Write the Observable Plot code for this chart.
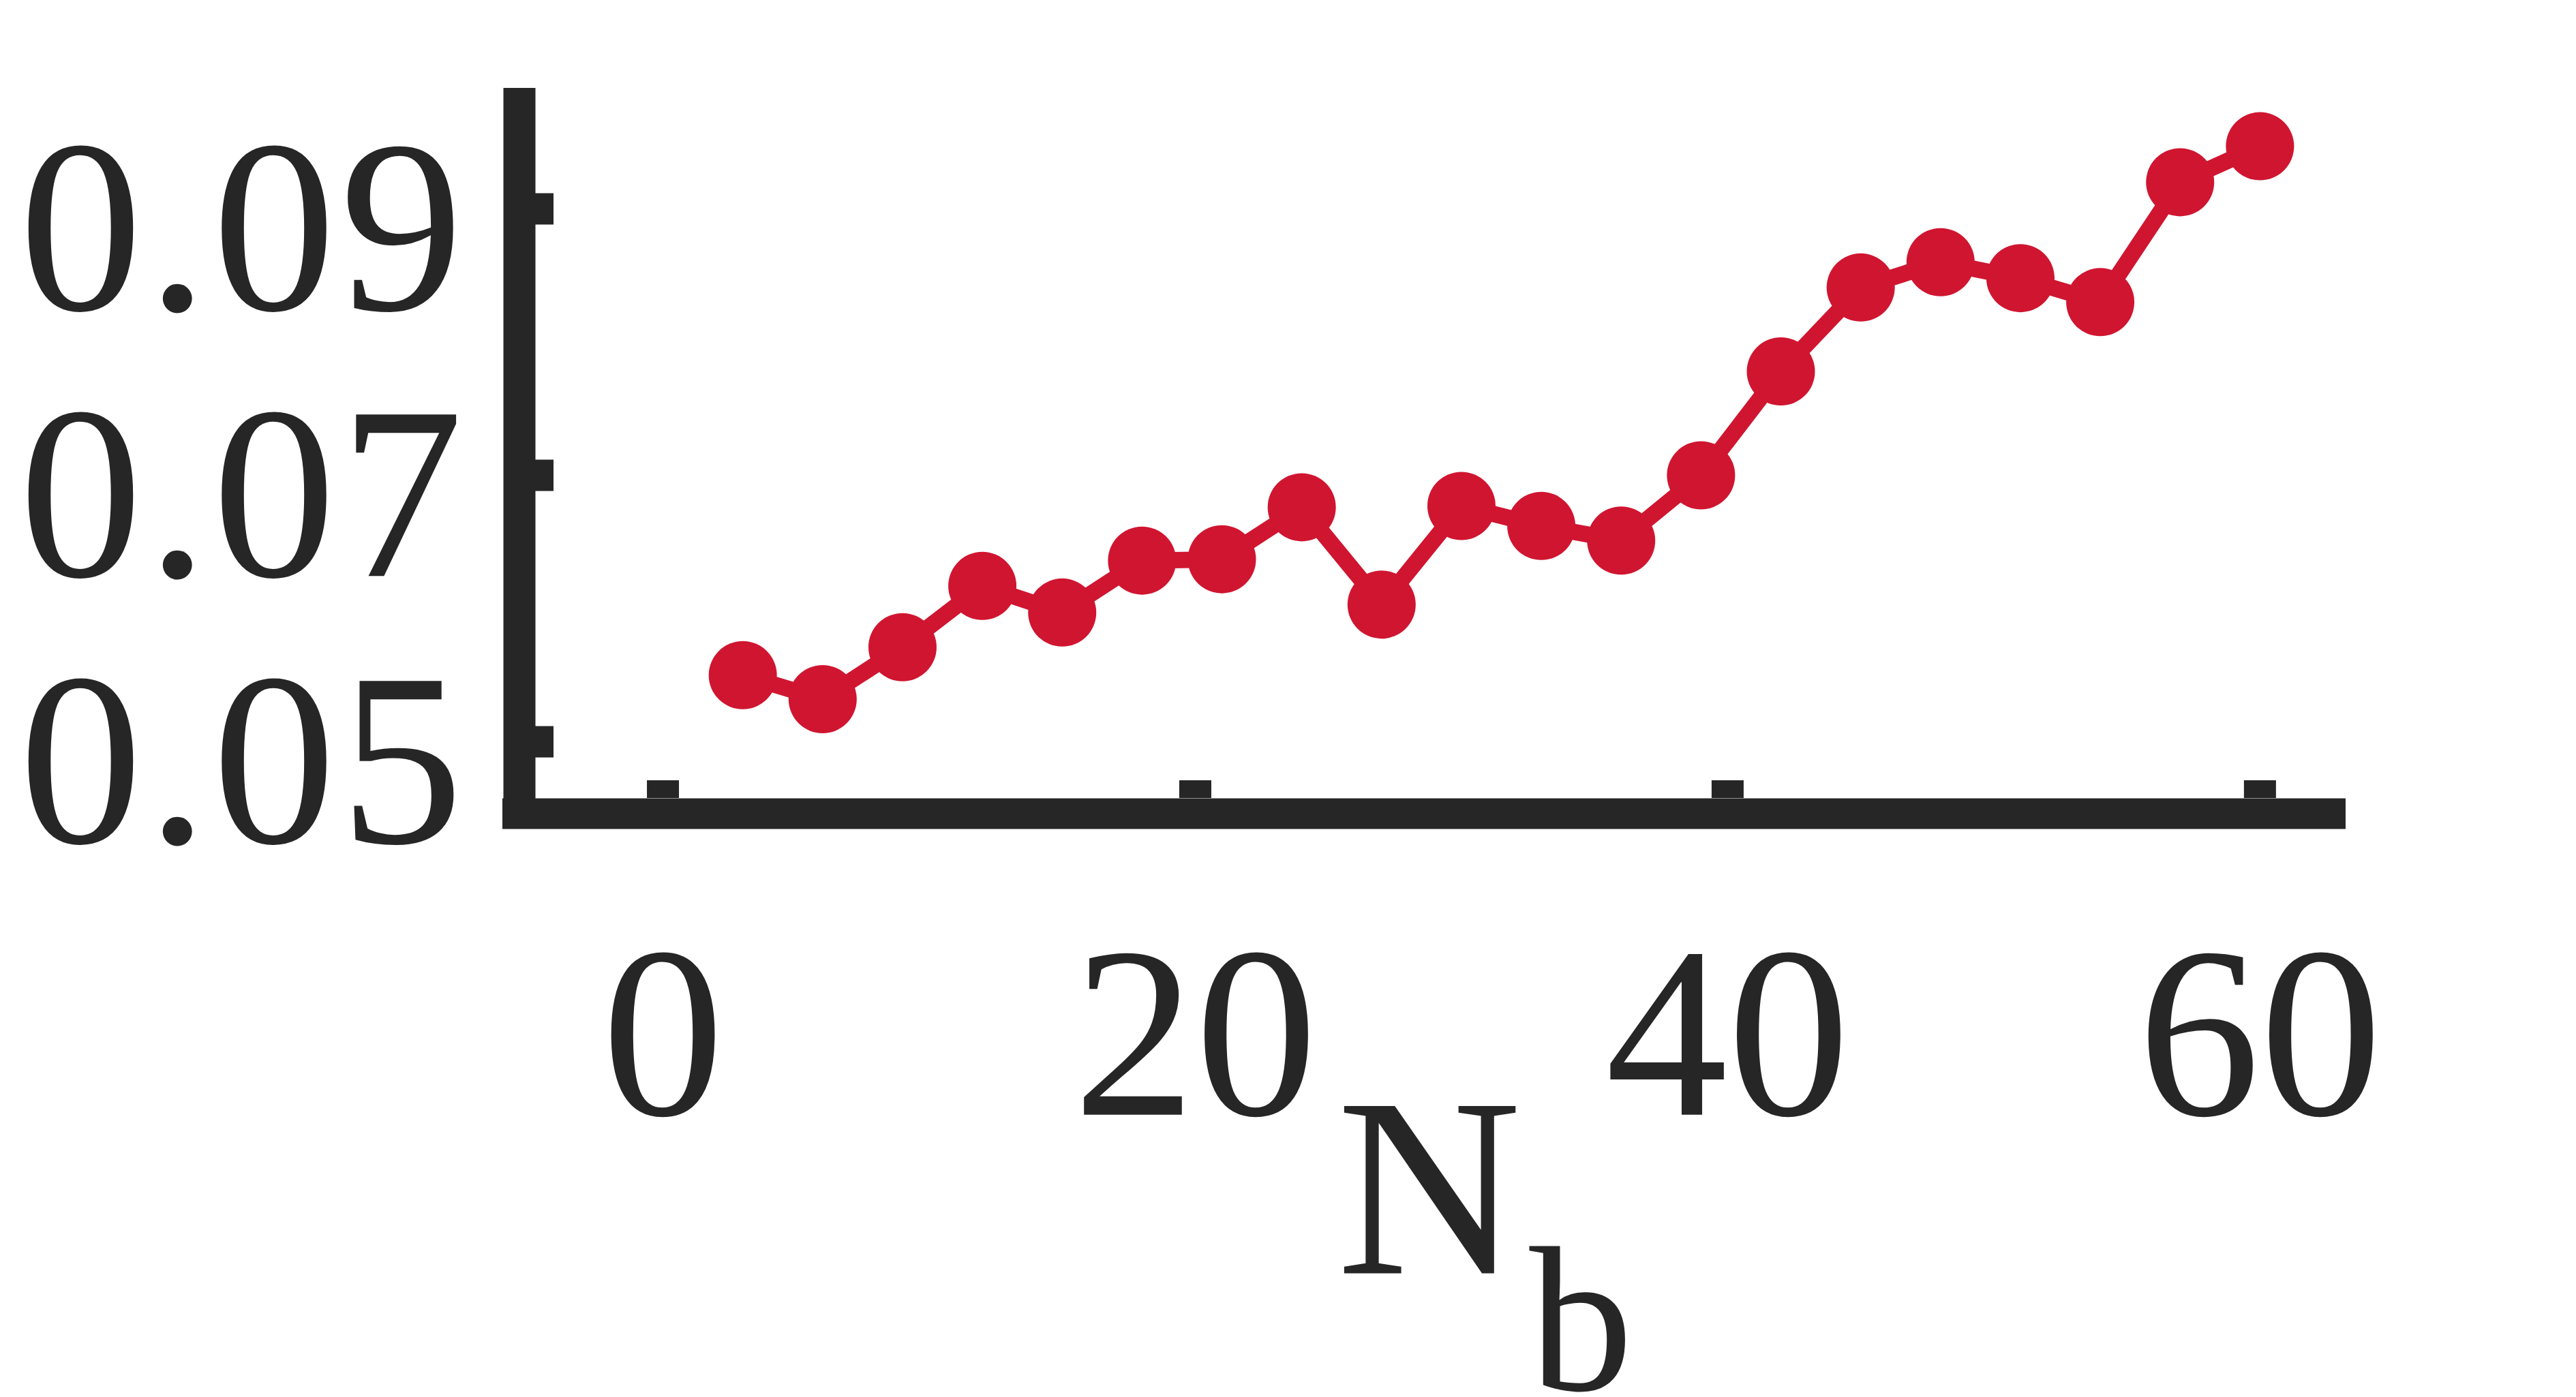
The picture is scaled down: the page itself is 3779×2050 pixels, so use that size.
<!DOCTYPE html>
<html>
<head>
<meta charset="utf-8">
<script src="https://cdn.jsdelivr.net/npm/d3@7"></script>
<script src="https://cdn.jsdelivr.net/npm/@observablehq/plot@0.6"></script>
<style>
  html, body { margin: 0; padding: 0; background: #ffffff; }
  svg { display: block; }
  svg text { font-family: "Liberation Serif", "Times New Roman", Tinos, serif !important; }
  g[aria-label="y-axis tick label"] text { letter-spacing: 6px; }
</style>
</head>
<body>
<script>
// ---- data ----
const nb = [3, 6, 9, 12, 15, 18, 21, 24, 27, 30, 33, 36, 39, 42, 45, 48, 51, 54, 57, 60];
const values = [0.0550, 0.0532, 0.0571, 0.0617, 0.0597, 0.0636, 0.0637, 0.0676, 0.0603, 0.0677,
                0.0662, 0.0651, 0.0700, 0.0778, 0.0841, 0.0860, 0.0848, 0.0830, 0.0920, 0.0947];
const xTicks = [0, 20, 40, 60];
const yTicks = [0.05, 0.07, 0.09];
const xLabel = "N";
const xLabelSub = "b";

const xDomain = [-4.79, 63.23];
const yDomain = [0.045755, 0.099054];

const data = nb.map((n, i) => ({n, v: values[i]}));

const dark = "#262626";
const red = "#D01530";
const font = "'Liberation Serif', 'Times New Roman', serif";

const chart = Plot.plot({
  width: 3779,
  height: 2050,
  marginTop: 129,
  marginLeft: 785,
  marginRight: 338,
  marginBottom: 879,
  style: {background: "#ffffff", color: dark, fontFamily: font, overflow: "visible"},
  x: {domain: xDomain},
  y: {domain: yDomain},
  marks: [
    // axis bars
    Plot.ruleX([xDomain[0]], {stroke: dark, strokeWidth: 47, dx: -23.5, insetBottom: -45}),
    Plot.ruleY([yDomain[0]], {stroke: dark, strokeWidth: 45, dy: 22.5, insetLeft: -48}),
    // inward ticks
    Plot.axisY(yTicks, {tickSize: 27, insetLeft: 27, strokeWidth: 46, stroke: dark, fill: "none", label: null}),
    Plot.axisX(xTicks, {tickSize: 26, insetBottom: 26, strokeWidth: 47, stroke: dark, fill: "none", label: null}),
    // tick labels
    Plot.axisY(yTicks, {tickSize: 0, tickPadding: 100, dy: 32, fontSize: 362, fontFamily: font, fill: dark,
                        tickFormat: d3.format(".2f"), label: null}),
    Plot.axisX(xTicks, {tickSize: 0, tickPadding: 210, fontSize: 358, fontFamily: font, fill: dark,
                        tickFormat: d3.format("d"), label: null}),
    // data
    Plot.line(data, {x: "n", y: "v", stroke: red, strokeWidth: 24}),
    Plot.dot(data, {x: "n", y: "v", r: 50, fill: red, stroke: null}),
    // axis title N_b
    Plot.text([xLabel], {text: d => d, frameAnchor: "bottom", lineAnchor: "bottom", dx: -17, dy: 697,
                         fontSize: 375, fontFamily: font, fill: dark}),
    Plot.text([xLabelSub], {text: d => d, frameAnchor: "bottom", lineAnchor: "bottom", dx: 206, dy: 868,
                            fontSize: 304, fontFamily: font, fill: dark})
  ]
});
document.body.appendChild(chart);
</script>
</body>
</html>
